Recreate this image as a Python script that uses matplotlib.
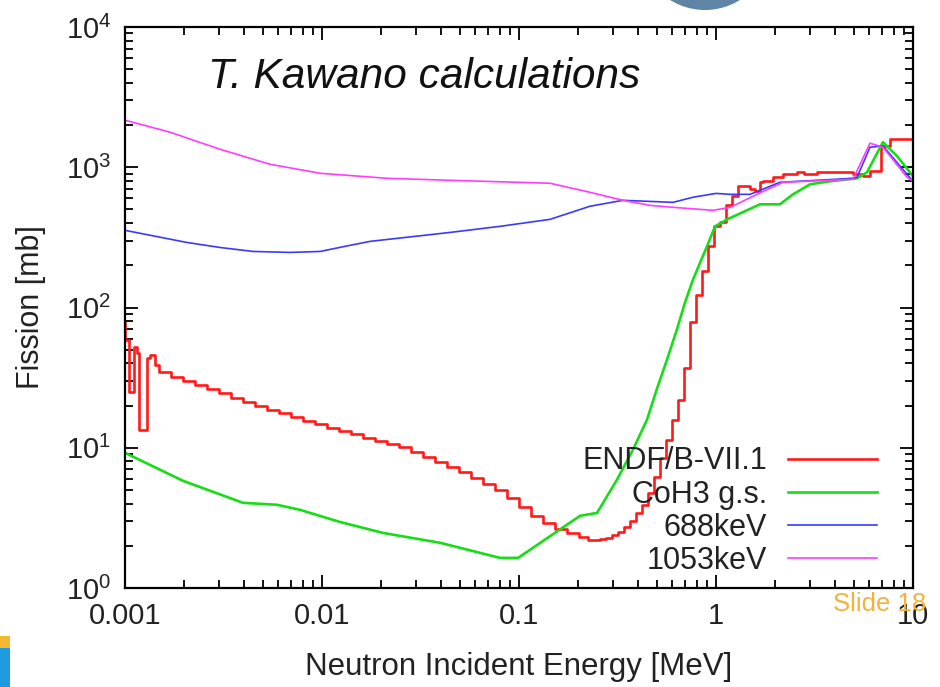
import matplotlib
matplotlib.use('Agg')
import matplotlib.pyplot as plt
from matplotlib.ticker import LogLocator, FixedLocator, FixedFormatter, NullFormatter
from matplotlib.patches import Ellipse, Rectangle

plt.rcParams['font.family'] = ['Liberation Sans', 'DejaVu Sans']
plt.rcParams['mathtext.fontset'] = 'custom'
plt.rcParams['mathtext.rm'] = 'Liberation Sans'

# ENDF/B-VII.1 evaluation (histogram)
endf_x = [0.001, 0.001, 0.001048, 0.001111, 0.001151, 0.001178, 0.001293, 0.001339, 0.00142,
          0.001488, 0.001712, 0.00197, 0.002266, 0.002608, 0.003, 0.003452, 0.003972, 0.00457,
          0.005258, 0.00605, 0.006961, 0.00801, 0.009215, 0.010603, 0.0122, 0.014037, 0.016151,
          0.018584, 0.02138, 0.0246, 0.028305, 0.032566, 0.037471, 0.043114, 0.049607, 0.057077,
          0.065675, 0.07556, 0.08694, 0.1, 0.11505, 0.13238, 0.15231, 0.17525, 0.20163, 0.22404,
          0.2402, 0.2577, 0.2764, 0.2965, 0.318, 0.3412, 0.366, 0.3926, 0.4211, 0.4517, 0.4845,
          0.5197, 0.5575, 0.598, 0.6415, 0.6881, 0.7381, 0.7918, 0.8493, 0.911, 0.9768, 1.0478,
          1.124, 1.206, 1.293, 1.49, 1.58, 1.67, 1.74, 1.95, 2.19, 2.58, 2.79, 3.26, 4.96, 5.57,
          6.05, 6.9, 7.64, 10.0]
endf_y = [78, 59, 25, 52, 47, 13.4, 44, 45.7, 38.6,
          34.9, 32.1, 30.1, 28.2, 26.4, 24.7, 22.8, 21.3, 20.0,
          18.7, 17.8, 16.6, 15.6, 14.8, 13.9, 13.2, 12.6, 11.8,
          11.2, 10.7, 10.2, 9.36, 8.62, 7.94, 7.32, 6.74, 6.11,
          5.53, 5.01, 4.39, 3.79, 3.27, 2.91, 2.64, 2.47, 2.31, 2.2,
          2.2, 2.24, 2.28, 2.39, 2.51, 2.73, 3.01, 3.43, 3.92, 4.77, 6.21,
          8.48, 11.4, 15.8, 22.0, 37.3, 79.4, 122, 181, 273, 379, 405,
          535, 621, 731, 697, 674, 781, 794, 849, 891, 921, 891, 921, 891, 863,
          936, 1413, 1585, 1560]

# CoH3 ground state
coh_x = [0.001, 0.00197, 0.00397, 0.00591, 0.00773, 0.0123, 0.0204, 0.0398, 0.08, 0.099,
         0.204, 0.249, 0.314, 0.379, 0.446, 0.5, 0.564, 0.634, 0.696, 0.764, 0.9, 0.989, 1.14,
         1.67, 2.11, 2.46, 3.0, 3.79, 5.2, 5.84, 7.04, 8.3, 10.0]
coh_y = [9.2, 5.81, 4.05, 3.92, 3.61, 2.96, 2.47, 2.10, 1.64, 1.64,
         3.27, 3.43, 5.9, 9.7, 15.8, 26, 42.5, 70, 108.6, 158, 273, 379, 425,
         544, 544, 641, 756, 794, 834, 921, 1509, 1199, 863]

# isomer 688 keV
k688_x = [0.001, 0.00206, 0.00303, 0.00447, 0.006882, 0.0098, 0.01309, 0.0175, 0.0447, 0.0801,
          0.1437, 0.229, 0.337, 0.605, 0.764, 1.0, 1.18, 1.49, 2.11, 4.96, 5.2, 6.05, 7.04, 10.0]
k688_y = [355, 291, 268, 251, 247, 251, 273, 296, 343, 379,
          425, 527, 581, 562, 611, 651, 641, 641, 781, 834, 849, 1389, 1420, 794]

# isomer 1053 keV
k1053_x = [0.001, 0.001692, 0.00303, 0.00545, 0.00977, 0.0214, 0.0447, 0.1437, 0.229, 0.337,
           0.462, 0.605, 0.966, 1.18, 1.74, 2.19, 4.96, 6.05, 7.04, 9.33, 10.0]
k1053_y = [2166, 1778, 1345, 1050, 906, 834, 807, 769, 663, 581,
           535, 518, 493, 518, 674, 781, 821, 1484, 1389, 849, 794]

xticks = [0.001, 0.01, 0.1, 1, 10]
xtick_labels = ['0.001', '0.01', '0.1', '1', '10']

fig = plt.figure(figsize=(9.4, 6.87), dpi=100)
ax = fig.add_axes([125 / 940, 1 - 588 / 687, 788 / 940, 561 / 687])

ax.plot(endf_x, endf_y, color='#ff1a1a', lw=1.9, drawstyle='steps-post', label='ENDF/B-VII.1')
ax.plot(coh_x, coh_y, color='#16dd16', lw=1.9, label='CoH3 g.s.')
ax.plot(k688_x, k688_y, color='#3a3aff', lw=1.2, label='688keV')
ax.plot(k1053_x, k1053_y, color='#ff3cff', lw=1.2, label='1053keV')

ax.set_xscale('log')
ax.set_yscale('log')
ax.set_xlim(0.001, 10)
ax.set_ylim(1, 1e4)

ax.xaxis.set_major_locator(FixedLocator(xticks))
ax.xaxis.set_major_formatter(FixedFormatter(xtick_labels))
ax.xaxis.set_minor_locator(LogLocator(base=10, subs=range(2, 10)))
ax.xaxis.set_minor_formatter(NullFormatter())
ax.yaxis.set_minor_locator(LogLocator(base=10, subs=range(2, 10)))
ax.yaxis.set_minor_formatter(NullFormatter())

for s in ax.spines.values():
    s.set_linewidth(1.6)
ax.tick_params(which='both', direction='in', top=True, right=True, width=1.4, colors='#111111')
ax.tick_params(which='major', length=9.5, labelsize=21, pad=10, labelcolor='#222222')
ax.tick_params(which='minor', length=5.5)

ax.set_xlabel('Neutron Incident Energy [MeV]', fontsize=22.5, color='#222222', labelpad=16)
ax.set_ylabel('Fission [mb]', fontsize=22, color='#222222', labelpad=14)

ax.text(0.105, 0.91, 'T. Kawano calculations', transform=ax.transAxes, fontsize=30.5,
        style='italic', va='center', ha='left', color='#111111')

leg = ax.legend(loc='lower right', bbox_to_anchor=((877 - 125) / 788, 0.022), frameon=False,
                markerfirst=False, fontsize=22, handlelength=2.9, handletextpad=0.7,
                labelspacing=0.1, borderpad=0, borderaxespad=0)
for t in leg.get_texts():
    t.set_color('#222222')

fig.text(833 / 940, 1 - 604 / 687, 'Slide 18', fontsize=18.5, color='#f2b33d', va='center', ha='left')

# slide decorations
fig.add_artist(Ellipse((705 / 940, 1 + 56 / 687), 132 / 940, 132 / 687, transform=fig.transFigure,
                       facecolor='#5f84a6', edgecolor='none'))
fig.add_artist(Rectangle((0, 0), 10 / 940, 39 / 687, transform=fig.transFigure,
                         facecolor='#1e9be0', edgecolor='none'))
fig.add_artist(Rectangle((0, 39 / 687), 10 / 940, 12 / 687, transform=fig.transFigure,
                         facecolor='#f5b82e', edgecolor='none'))

fig.savefig('out.png', dpi=100)
